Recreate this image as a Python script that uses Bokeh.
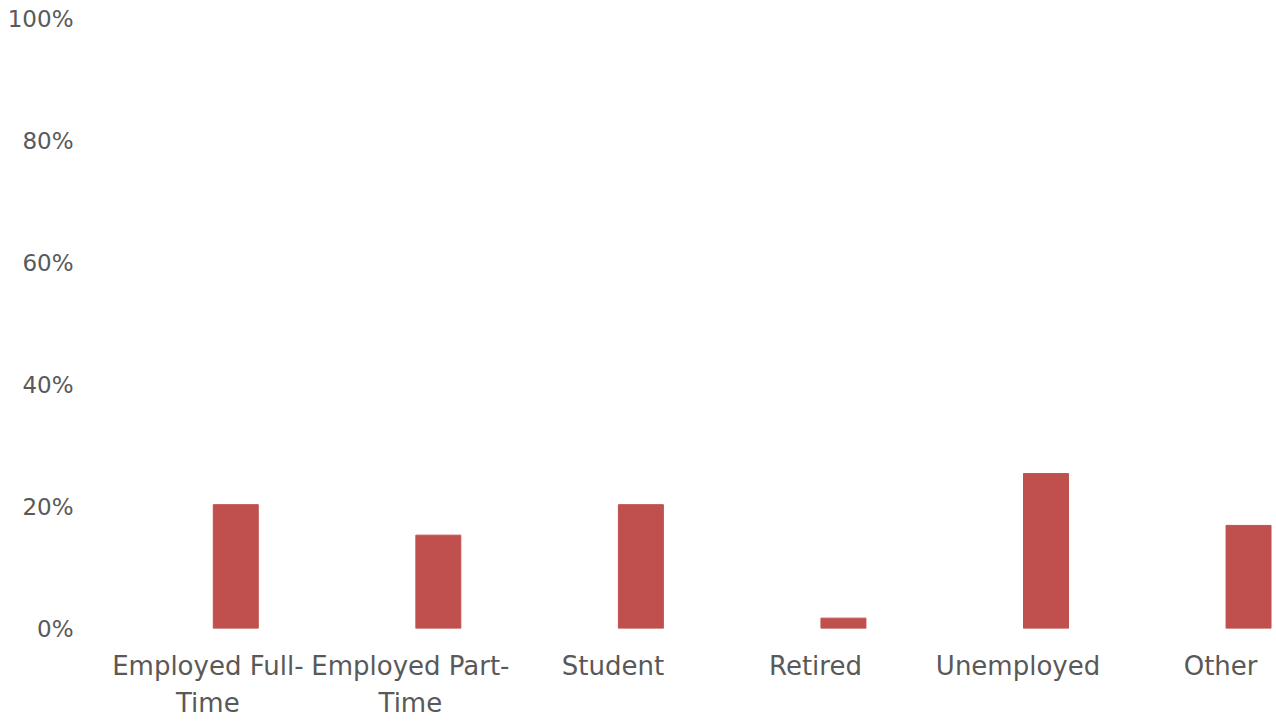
from bokeh.plotting import figure
from bokeh.models import Range1d, FixedTicker, NumeralTickFormatter, ColumnDataSource
from bokeh.embed import file_html
from bokeh.resources import INLINE

categories = ["Employed Full-\nTime", "Employed Part-\nTime", "Student", "Retired", "Unemployed", "Other"]
values = [0.203, 0.153, 0.203, 0.017, 0.254, 0.169]
y_ticks = [0, 0.2, 0.4, 0.6, 0.8, 1.0]

xs = list(range(len(categories)))
src = ColumnDataSource(dict(x=xs, top=values))

p = figure(width=1276, height=721, output_backend="svg", toolbar_location=None,
           x_range=Range1d(-0.5, 5.138), y_range=Range1d(0, 1.0),
           min_border_left=134, min_border_right=0, min_border_top=18, min_border_bottom=93)
p.vbar(x="x", top="top", width=0.222, bottom=0, source=src, color="#C0504D")

p.outline_line_color = None
p.background_fill_color = "white"
p.xgrid.grid_line_color = None
p.ygrid.grid_line_color = None

font = "DejaVu Sans"
lab_color = "#595959"

p.yaxis.ticker = FixedTicker(ticks=y_ticks)
p.yaxis.formatter = NumeralTickFormatter(format="0%")
p.yaxis.axis_line_color = None
p.yaxis.major_tick_line_color = None
p.yaxis.minor_tick_line_color = None
p.yaxis.major_tick_out = 0
p.yaxis.major_tick_in = 0
p.yaxis.major_label_standoff = 61
p.yaxis.major_label_text_font = font
p.yaxis.major_label_text_font_size = "23px"
p.yaxis.major_label_text_color = lab_color

# category labels sit slightly left of the bar centres, as in the source chart
label_shift = 0.138
label_pos = [round(i - label_shift, 3) for i in xs]
p.xaxis.ticker = FixedTicker(ticks=label_pos)
p.xaxis.major_label_overrides = {pos: c for pos, c in zip(label_pos, categories)}
p.xaxis.axis_line_color = None
p.xaxis.major_tick_line_color = None
p.xaxis.minor_tick_line_color = None
p.xaxis.major_tick_out = 0
p.xaxis.major_tick_in = 0
p.xaxis.major_label_standoff = 22
p.xaxis.major_label_text_font = font
p.xaxis.major_label_text_font_size = "26px"
p.xaxis.major_label_text_color = lab_color
p.xaxis.major_label_text_line_height = 1.25

open("out.html", "w").write(file_html(p, INLINE))
